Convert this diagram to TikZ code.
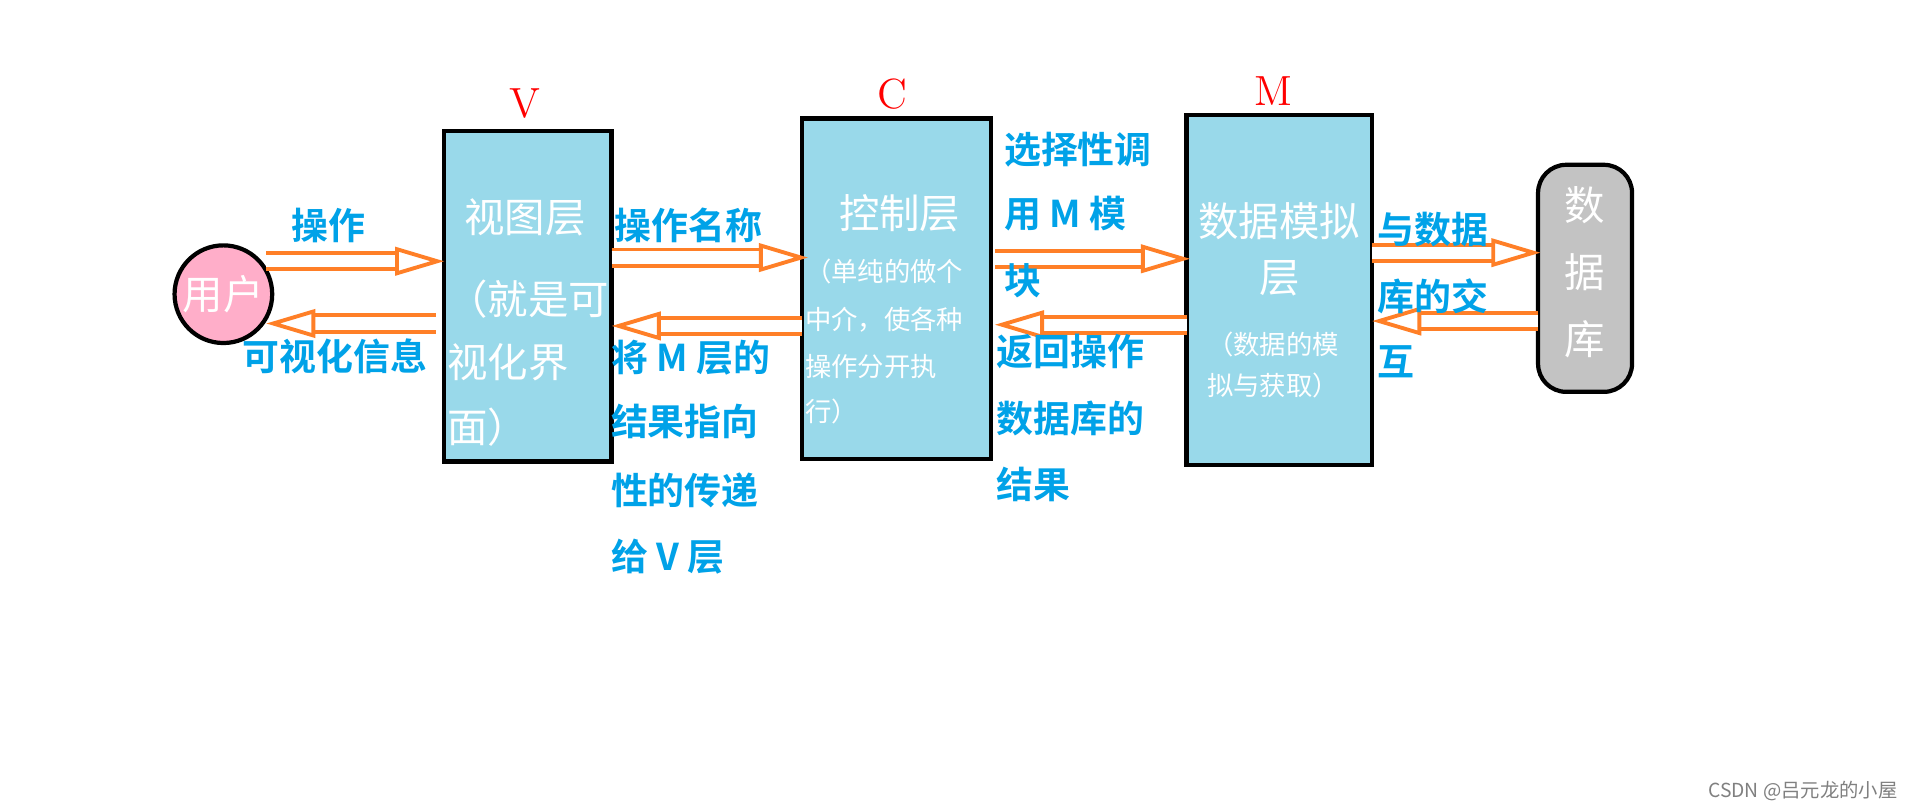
\documentclass[tikz,border=0pt]{standalone}
\usepackage{fontspec}
\newfontfamily\cjk{Noto Sans CJK SC}
\newfontfamily\cjkb{Noto Sans CJK SC Bold}
\usetikzlibrary{arrows.meta}
\definecolor{boxblue}{RGB}{153,217,234}
\definecolor{txtblue}{RGB}{0,162,232}
\definecolor{upink}{RGB}{255,174,201}
\definecolor{dbgray}{RGB}{195,195,195}
\definecolor{arr}{RGB}{255,127,39}
\tikzset{
 x=0.12207mm,y=-0.12207mm,
 layer/.style={draw=black,line width=1.2pt,fill=boxblue},
 lbl/.style={txtblue,font=\cjkb\fontsize{10.5}{12}\selectfont,anchor=west,inner sep=0},
 wbig/.style={white,font=\cjk\fontsize{11.5}{13}\selectfont,inner sep=0},
 wsm/.style={white,font=\cjk\fontsize{7.5}{9}\selectfont,inner sep=0,anchor=west},
 tag/.style={red,font=\fontsize{12}{14}\selectfont,inner sep=0},
 fat/.style={arr,line width=1.1pt,double=white,double distance=3.5pt,-{Triangle[open,length=14pt,width=8pt,line width=1.1pt]}}
}
\begin{document}
\begin{tikzpicture}
\useasboundingbox[fill=white] (0,0) rectangle (1568,662);
\node[circle,draw=black,line width=1.2pt,fill=upink,minimum size=80*0.12207mm,inner sep=0,
 font=\cjk\fontsize{11.5}{13}\selectfont,text=white] (user) at (183,241) {用户};
\draw[layer] (364,107) rectangle (501,378); \coordinate (vw) at (364,0); \coordinate (ve) at (501,0);
\draw[layer] (657,97) rectangle (812,376); \coordinate (cw) at (657,0); \coordinate (ce) at (812,0);
\draw[layer] (972,94) rectangle (1124,381); \coordinate (mw) at (972,0); \coordinate (me) at (1124,0);
\draw[draw=black,line width=1.2pt,fill=dbgray,rounded corners=8pt] (1260,135) rectangle (1337,321);
\coordinate (dw) at (1260,0);
\node[tag] (tv) at (430,85) {V};
\node[tag] (tc) at (731,77) {C};
\node[tag] (tm) at (1043,75) {M};
% arrows
\draw[fat] (218,214) -- (vw |- 0,214);
\draw[fat] (357,265) -- (218,265);
\draw[fat] (ve |- 0,211) -- (662,211);
\draw[fat] (cw |- 0,267) -- (501,267);
\draw[fat] (815,212) -- (975,212);
\draw[fat] (mw |- 0,266) -- (815,266);
\draw[fat] (me |- 0,207) -- (1262,207);
\draw[fat] (dw |- 0,263) -- (1124,263);
% box texts
\node[wbig] (v1) at (430,178) {视图层};
\node[wbig,anchor=west] (v2) at (366,245) {（就是可};
\node[wbig,anchor=west] (v3) at (366,297) {视化界};
\node[wbig,anchor=west] (v4) at (366,350) {面）};
\node[wbig] (c1) at (737,175) {控制层};
\node[wsm] (c2) at (659,222) {（单纯的做个};
\node[wsm] (c3) at (659,262) {中介，使各种};
\node[wsm] (c4) at (659,300) {操作分开执};
\node[wsm] (c5) at (659,337) {行）};
\node[wbig] (m1) at (1048,181) {数据模拟};
\node[wbig] (m2) at (1048,228) {层};
\node[wsm,anchor=center] (m3) at (1043,282) {（数据的模};
\node[wsm,anchor=center] (m4) at (1043,316) {拟与获取）};
\node[wbig] (d1) at (1298,168) {数};
\node[wbig] (d2) at (1298,223) {据};
\node[wbig] (d3) at (1298,278) {库};
% blue labels
\node[lbl] at (238,185) {操作};
\node[lbl] at (198,292) {可视化信息};
\node[lbl] at (503,185) {操作名称};
\node[lbl] at (500,293) {将 M 层的};
\node[lbl] at (500,345) {结果指向};
\node[lbl] at (500,402) {性的传递};
\node[lbl] at (500,456) {给 V 层};
\node[lbl] at (822,123) {选择性调};
\node[lbl] at (822,175) {用 M 模};
\node[lbl] at (822,230) {块};
\node[lbl] at (816,288) {返回操作};
\node[lbl] at (816,343) {数据库的};
\node[lbl] at (816,397) {结果};
\node[lbl] at (1128,188) {与数据};
\node[lbl] at (1128,243) {库的交};
\node[lbl] at (1128,296) {互};
\node[gray,font=\cjk\fontsize{5.5}{6}\selectfont,anchor=east,inner sep=0] at (1555,648) {CSDN @吕元龙的小屋};
\end{tikzpicture}
\end{document}
